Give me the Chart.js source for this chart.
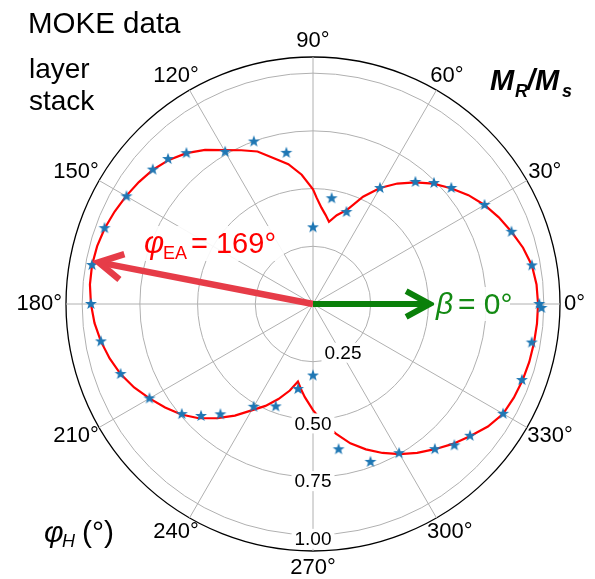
<!DOCTYPE html>
<html>
<head>
<meta charset="utf-8">
<script src="https://cdn.jsdelivr.net/npm/chart.js@4.4.1/dist/chart.umd.min.js"></script>
<style>
  html, body { margin: 0; padding: 0; background: #fff; }
  #wrap { width: 595px; height: 579px; position: relative; }
</style>
</head>
<body>
<div id="wrap"><canvas id="moke"></canvas></div>
<script>
// measured MOKE points: field angle (deg) and remanence M_R/M_s
const starAngles = [0, 10, 20, 30, 40, 45, 50, 60, 70, 80,
  90, 100, 110, 120, 130, 135, 140, 150, 160, 170,
  180, 190, 200, 210, 220, 225, 230, 240, 250, 260,
  270, 280, 290, 300, 310, 315, 320, 330, 340, 350, 359];
const starValues = [0.980, 0.963, 0.915, 0.858, 0.782, 0.741, 0.690, 0.580, 0.424, 0.465,
  0.332, 0.665, 0.749, 0.761, 0.853, 0.888, 0.906, 0.933, 0.961, 0.972,
  0.962, 0.933, 0.887, 0.818, 0.742, 0.686, 0.624, 0.514, 0.472, 0.374,
  0.310, 0.639, 0.728, 0.746, 0.821, 0.866, 0.888, 0.951, 0.963, 0.962, 0.990];

// fitted curve (red)
const fitAngles = [0, 5, 10, 15, 20, 25, 30, 35, 40, 45, 50, 55, 60, 65, 70, 75, 79,
  82, 85, 88, 90, 95, 100, 105, 110, 115, 120, 125, 130, 135, 140, 145, 150, 155, 160,
  165, 170, 175, 180, 185, 190, 195, 200, 205, 210, 215, 220, 225, 230, 235, 240, 245,
  250, 255, 259, 262, 265, 270, 275, 280, 285, 290, 295, 300, 305, 310, 315, 320, 325,
  330, 335, 340, 345, 350, 355];
const fitValues = [0.975, 0.972, 0.963, 0.942, 0.915, 0.888, 0.858, 0.822, 0.780, 0.737, 0.688, 0.637, 0.580, 0.513, 0.435, 0.398, 0.363,
  0.390, 0.419, 0.460, 0.497, 0.562, 0.615, 0.654, 0.703, 0.735, 0.770, 0.815, 0.853, 0.883, 0.905, 0.921, 0.935, 0.948, 0.960,
  0.968, 0.972, 0.970, 0.962, 0.950, 0.933, 0.912, 0.887, 0.855, 0.818, 0.782, 0.745, 0.700, 0.645, 0.590, 0.532, 0.487,
  0.438, 0.388, 0.342, 0.373, 0.405, 0.460, 0.515, 0.570, 0.625, 0.670, 0.712, 0.751, 0.787, 0.821, 0.857, 0.890, 0.925,
  0.951, 0.960, 0.966, 0.970, 0.972, 0.974];

const angleTicks = [0, 30, 60, 90, 120, 150, 180, 210, 240, 270, 300, 330];
const radiusTicks = [0.25, 0.5, 0.75, 1.0];
const radiusMax = 1.07;

// arrows: easy axis (red) and field reference beta (green)
const arrowAngles = [169, 0];
const arrowValues = [0.946, 0.506];

const FONT = '"Liberation Sans", Arial, sans-serif';

// radar goes clockwise from the right, the figure counter-clockwise
function toIndex(deg) {
  return (360 - deg) % 360;
}

const labels = [];
for (let i = 0; i < 360; i++) labels.push((360 - i) % 360);

const starData = new Array(360).fill(null);
starAngles.forEach((a, k) => { starData[toIndex(a)] = starValues[k]; });
const fitData = new Array(360).fill(null);
fitAngles.forEach((a, k) => { fitData[toIndex(a)] = fitValues[k]; });

// filled 5-point star like matplotlib's '*'
function makeStar(rOut, rIn, color) {
  const c = document.createElement('canvas');
  const s = 14;
  c.width = s; c.height = s;
  const g = c.getContext('2d');
  g.translate(s / 2, s / 2);
  g.beginPath();
  for (let k = 0; k < 10; k++) {
    const rad = k % 2 ? rIn : rOut;
    const a = -Math.PI / 2 + k * Math.PI / 5;
    g.lineTo(rad * Math.cos(a), rad * Math.sin(a));
  }
  g.closePath();
  g.fillStyle = color;
  g.fill();
  return c;
}
const starImg = makeStar(6.3, 2.6, '#1f77b4');

function boxText(ctx, text, x, y, pad) {
  const w = ctx.measureText(text).width;
  ctx.fillStyle = '#fff';
  ctx.fillRect(x - w / 2 - pad, y - 10, w + pad * 2, 20);
}

function drawArrow(ctx, from, to, color, width, head) {
  const ang = Math.atan2(to.y - from.y, to.x - from.x);
  ctx.save();
  ctx.strokeStyle = color;
  ctx.lineWidth = width;
  ctx.lineJoin = 'miter';
  ctx.beginPath();
  ctx.moveTo(from.x, from.y);
  ctx.lineTo(to.x - Math.cos(ang) * 3, to.y - Math.sin(ang) * 3);
  ctx.stroke();
  ctx.beginPath();
  ctx.moveTo(to.x - head * Math.cos(ang - 0.5), to.y - head * Math.sin(ang - 0.5));
  ctx.lineTo(to.x, to.y);
  ctx.lineTo(to.x - head * Math.cos(ang + 0.5), to.y - head * Math.sin(ang + 0.5));
  ctx.stroke();
  ctx.restore();
}

const polarDecor = {
  id: 'polarDecor',
  afterDatasetsDraw(chart) {
    const ctx = chart.ctx;
    const r = chart.scales.r;
    ctx.save();

    // angle labels, box edge kept a few px off the outer circle
    ctx.font = '22px ' + FONT;
    ctx.fillStyle = '#000';
    ctx.textAlign = 'center';
    ctx.textBaseline = 'middle';
    angleTicks.forEach(a => {
      const txt = a + '°';
      const w = ctx.measureText(txt).width;
      const rad = a * Math.PI / 180;
      const p = r.getPointPosition(toIndex(a), r.drawingArea + 4);
      ctx.fillText(txt, p.x + Math.cos(rad) * w / 2, p.y - Math.sin(rad) * 12.5);
    });

    // radial tick labels along 270 deg
    ctx.font = '19px ' + FONT;
    radiusTicks.forEach(v => {
      const p = r.getPointPositionForValue(toIndex(270), v);
      let x = p.x, y = p.y + 4;
      if (v === 0.25) { x += 30; y -= 13; }
      boxText(ctx, v.toFixed(2), x, y, 3);
      ctx.fillStyle = '#000';
      ctx.fillText(v.toFixed(2), x, y + 1);
    });

    // arrows
    const colors = ['#e63c48', '#0a800a'];
    const widths = [6.5, 6];
    arrowAngles.forEach((a, k) => {
      const tip = r.getPointPositionForValue(toIndex(a), arrowValues[k]);
      drawArrow(ctx, {x: r.xCenter, y: r.yCenter}, tip, colors[k], widths[k], 27);
    });

    ctx.textAlign = 'left';
    ctx.textBaseline = 'alphabetic';

    // phi_EA label
    ctx.fillStyle = 'rgba(255,255,255,0.9)';
    ctx.fillRect(139, 226, 145, 35);
    ctx.fillStyle = '#ff0000';
    ctx.font = 'italic 31px ' + FONT;
    ctx.fillText('φ', 144, 253);
    ctx.font = '18px ' + FONT;
    ctx.fillText('EA', 163, 259);
    ctx.font = '29px ' + FONT;
    ctx.fillText('= 169°', 191, 253);

    // beta label
    ctx.fillStyle = 'rgba(255,255,255,0.9)';
    ctx.fillRect(434, 287, 76, 34);
    ctx.fillStyle = '#138a13';
    ctx.font = 'italic 30px ' + FONT;
    ctx.fillText('β', 436, 314);
    ctx.font = '30px ' + FONT;
    ctx.fillText('= 0°', 458, 314);

    // corner texts
    ctx.fillStyle = '#000';
    ctx.font = '29.5px ' + FONT;
    ctx.fillText('MOKE data', 28, 33);
    ctx.font = '28px ' + FONT;
    ctx.fillText('layer', 29, 78);
    ctx.fillText('stack', 29, 110);

    ctx.font = 'italic bold 29px ' + FONT;
    ctx.fillText('M', 490, 90);
    ctx.fillText('/', 527, 90);
    ctx.fillText('M', 535, 90);
    ctx.font = 'italic bold 18px ' + FONT;
    ctx.fillText('R', 515, 97);
    ctx.fillText('s', 562, 97);

    ctx.font = 'italic 30px ' + FONT;
    ctx.fillText('φ', 44, 542);
    ctx.font = 'italic 18px ' + FONT;
    ctx.fillText('H', 62, 547);
    ctx.font = '30px ' + FONT;
    ctx.fillText('(°)', 82, 542);

    ctx.restore();
  }
};

new Chart(document.getElementById('moke'), {
  type: 'radar',
  data: {
    labels: labels,
    datasets: [
      {
        label: 'MOKE data',
        data: starData,
        showLine: false,
        fill: false,
        pointStyle: starImg,
        pointRadius: 6,
        spanGaps: true
      },
      {
        label: 'fit',
        data: fitData,
        fill: false,
        borderColor: '#ff0000',
        borderWidth: 2.2,
        pointRadius: 0,
        tension: 0,
        spanGaps: true
      }
    ]
  },
  options: {
    responsive: true,
    maintainAspectRatio: false,
    animation: false,
    events: [],
    layout: { padding: { left: 66, right: 35, top: 57, bottom: 28 } },
    plugins: {
      legend: { display: false },
      tooltip: { enabled: false }
    },
    scales: {
      r: {
        min: 0,
        max: radiusMax,
        startAngle: 90,
        ticks: { display: false, stepSize: 0.25 },
        afterBuildTicks: (scale) => {
          scale.ticks = [0].concat(radiusTicks, [radiusMax]).map(v => ({ value: v }));
        },
        pointLabels: { display: false },
        grid: {
          circular: true,
          color: (c) => (c.tick && c.tick.value === radiusMax ? '#000' : '#b0b0b0'),
          lineWidth: (c) => (c.tick && c.tick.value === radiusMax ? 1.3 : 1)
        },
        angleLines: {
          display: true,
          color: '#b0b0b0',
          lineWidth: (c) => (c.index % 30 === 0 ? 1 : 0)
        }
      }
    }
  },
  plugins: [polarDecor]
});
</script>
</body>
</html>
